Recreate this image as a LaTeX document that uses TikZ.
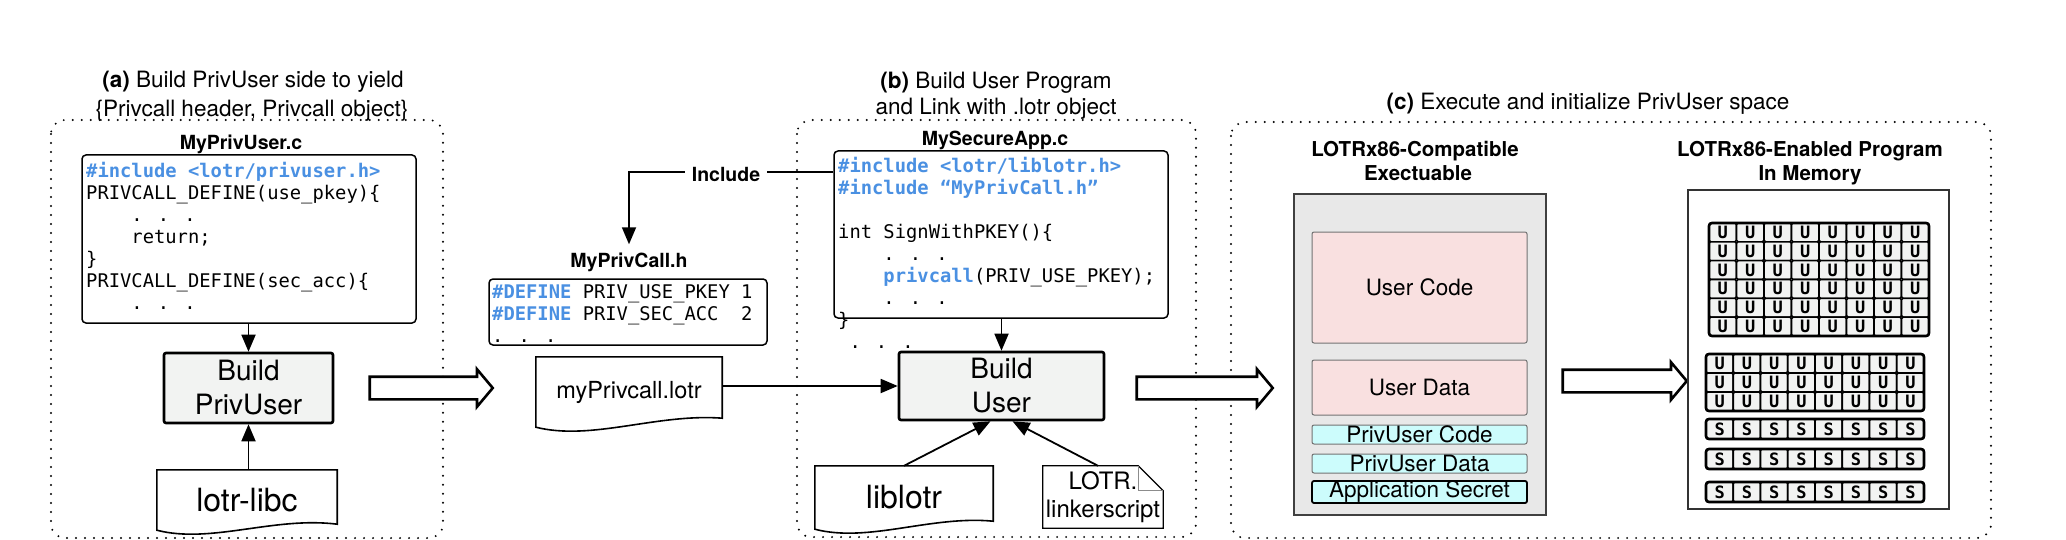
\documentclass[tikz,border=0pt]{standalone}
\usepackage{fontspec}
\setmainfont{TeX Gyre Heros}
\newfontfamily\codefont{DejaVu Sans Mono}
\usetikzlibrary{arrows.meta,shapes.arrows,calc}
\definecolor{codeblue}{HTML}{4A90E2}
\definecolor{buildfill}{HTML}{F2F3F2}
\definecolor{execfill}{HTML}{E8E8E8}
\definecolor{pinkfill}{HTML}{F9E0E0}
\definecolor{cyanfill}{HTML}{CCFCFC}
\definecolor{cellfill}{HTML}{F2F3F2}
\newcommand\kw[1]{{\color{codeblue}\bfseries #1}}
\newcommand\ind{\phantom{0000}}
\newcommand\fsz[2]{\fontsize{#1}{#2}\selectfont}
\newcommand\wavydoc[2]{%
  \draw[docline] (#1.north west) -- (#1.north east) -- ($(#1.south east)+(0,-#2)$)
    .. controls ($(#1.south west)!0.65!(#1.south east)+(0,-14)$) and ($(#1.south west)!0.3!(#1.south east)+(0,14)$) .. (#1.south west) -- cycle;}
\tikzset{
  dotframe/.style={line width=2.2pt, dash pattern=on 0pt off 9pt, line cap=round, rounded corners=14pt},
  ttl/.style={anchor=base, inner sep=0pt, font=\fsz{22.5}{27}},
  fname/.style={anchor=base, inner sep=2pt, font=\fsz{19.5}{23}\bfseries},
  cname/.style={anchor=base, inner sep=2pt, font=\fsz{20.5}{24}\bfseries},
  codebox/.style={draw, line width=1.5pt, rounded corners=4pt, fill=white},
  codetext/.style={anchor=base west, inner sep=0pt},
  buildbox/.style={draw, line width=2.6pt, rounded corners=2pt, fill=buildfill, align=center, font=\fsz{28}{34}},
  docnode/.style={inner sep=0pt, align=center},
  docline/.style={line width=1.6pt},
  conn/.style={line width=1.8pt, -{Triangle[length=17pt,width=14pt]}},
  bigarrow/.style={single arrow, draw, line width=2.6pt, fill=white, inner sep=0pt, text height=10pt, text depth=10pt, single arrow head extend=7.5pt, single arrow tip angle=100},
  execbox/.style={draw=black!75, line width=1.5pt, fill=execfill},
  segpink/.style={draw=black!55, line width=1pt, fill=pinkfill, rounded corners=2pt, inner sep=0pt, font=\fsz{22.5}{27}},
  segcyan/.style={draw=black!55, line width=1pt, fill=cyanfill, rounded corners=2pt, inner sep=0pt, font=\fsz{22.5}{27}},
  ucell/.style={draw, line width=1.6pt, fill=cellfill, rounded corners=1.5pt, inner sep=0pt, font=\codefont\bfseries\fsz{17}{17}},
  gridframe/.style={draw, line width=2.6pt, rounded corners=3pt, inner sep=0pt}
}
\begin{document}
\begin{tikzpicture}[x=1pt,y=-1pt]
\useasboundingbox (0,0) rectangle (2066,540);

% panel frames
\draw[dotframe] (51,120) rectangle (443,538);
\draw[dotframe] (797,120) rectangle (1196,537);
\draw[dotframe] (1231,122) rectangle (1991,538);

% titles
\node[ttl] (ta1) at (253,88) {\textbf{(a)} Build PrivUser side to yield};
\node[ttl] (ta2) at (252,117) {\{Privcall header, Privcall object\}};
\node[ttl] (tb1) at (996,89) {\textbf{(b)} Build User Program};
\node[ttl] (tb2) at (996,115) {and Link with .lotr object};
\node[ttl] (tc1) at (1588,110) {\textbf{(c)} Execute and initialize PrivUser space};

% ---------- (a)
\node[fname] (fa) at (241,150) {MyPrivUser.c};
\node[codebox, minimum width=334pt, minimum height=168pt] (acode) at (249,239) {};
\node[codetext] (atext) at (86,178) {\vtop{\codefont\fsz{18.8}{22}
  \hbox{\kw{\#include <lotr/privuser.h>}}
  \hbox{PRIVCALL\_DEFINE(use\_pkey)\{}
  \hbox{\ind. . .}
  \hbox{\ind return;}
  \hbox{\}}
  \hbox{PRIVCALL\_DEFINE(sec\_acc)\{}
  \hbox{\ind. . .}}};
\node[buildbox, minimum width=169pt, minimum height=70pt] (bpu) at (248.5,388) {Build\\PrivUser};
\node[docnode, minimum width=180pt, minimum height=60pt, font=\fsz{32}{36}] (libc) at (247,500) {lotr-libc};
\wavydoc{libc}{6}
\draw[conn] (bpu.north |- acode.south) -- (bpu.north);
\draw[conn] (libc.north -| bpu.south) -- (bpu.south);

\node[bigarrow, minimum height=123pt] (arrA) at (426.5,388) {};

% ---------- header + lotr object
\node[fname] (fh) at (629,267) {MyPrivCall.h};
\node[codebox, minimum width=278pt, minimum height=66pt] (hcode) at (628,312) {};
\node[codetext] (htext) at (492,298) {\vtop{\codefont\fsz{18.8}{22}
  \hbox{\kw{\#DEFINE} PRIV\_USE\_PKEY 1}
  \hbox{\kw{\#DEFINE} PRIV\_SEC\_ACC\phantom{0} 2}
  \hbox{. . .}}};
\node[docnode, minimum width=186pt, minimum height=70pt, font=\fsz{23.5}{28}] (plotr) at (629,392) {myPrivcall.lotr};
\wavydoc{plotr}{9}

% ---------- (b)
\node[fname] (fb) at (995,146) {MySecureApp.c};
\node[codebox, minimum width=334pt, minimum height=167pt] (bcode) at (1001,234.5) {};
\node[codetext] (btext) at (838,173) {\vtop{\codefont\fsz{18.8}{22}
  \hbox{\kw{\#include <lotr/liblotr.h>}}
  \hbox{\kw{\#include “MyPrivCall.h”}}
  \hbox{}
  \hbox{int SignWithPKEY()\{}
  \hbox{\ind. . .}
  \hbox{\ind\kw{privcall}(PRIV\_USE\_PKEY);}
  \hbox{\ind. . .}
  \hbox{\}}
  \hbox{\phantom{0}. . .}}};
\node[buildbox, minimum width=205pt, minimum height=68pt] (bu) at (1001.5,386) {Build\\User};
\draw[conn] (bu.north |- bcode.south) -- (bu.north);
\draw[conn] (plotr.east |- bu.west) -- (bu.west);

\draw[conn] ($(bcode.north west)+(0,22)$) -| ($(fh.north)+(0,-6)$);
\node[fill=white, inner xsep=7pt, inner ysep=2pt, font=\fsz{19.5}{23}\bfseries] (inc) at (726,174) {Include};

\node[docnode, minimum width=178pt, minimum height=63pt, font=\fsz{32}{36}] (llib) at (904,497.5) {liblotr};
\wavydoc{llib}{8}
\node[docnode, minimum width=120pt, minimum height=62pt, font=\fsz{24}{28}] (ls) at (1103,497) {LOTR.\\linkerscript};
\draw[line width=1.2pt] (ls.north west) -- ($(ls.north east)+(-25,0)$) -- ($(ls.north east)+(0,25)$) -- (ls.south east) -- (ls.south west) -- cycle;
\draw[line width=1pt, black!45] ($(ls.north east)+(-25,0)$) |- ($(ls.north east)+(0,25)$);
\draw[conn] (llib.north) -- ($(bu.south)+(-11,0)$);
\draw[conn] ($(ls.north)+(-5,0)$) -- ($(bu.south)+(11,0)$);

\node[bigarrow, minimum height=136pt] (arrB) at (1200,388) {};

% ---------- (c)
\node[cname] (ce1) at (1415,157) {LOTRx86-Compatible};
\node[cname] (ce2) at (1418,181) {Exectuable};
\node[cname] (cm1) at (1810,157) {LOTRx86-Enabled Program};
\node[cname] (cm2) at (1810,181) {In Memory};

\node[execbox, minimum width=252pt, minimum height=321pt] (exe) at (1420,354.5) {};
\node[segpink, minimum width=215pt, minimum height=111pt] (ucode) at (1419.5,287.5) {User Code};
\node[segpink, minimum width=215pt, minimum height=55pt] (udata) at (1419.5,387.5) {User Data};
\node[segcyan, minimum width=215pt, minimum height=19pt] (pcode) at (1419.5,434.5) {PrivUser Code};
\node[segcyan, minimum width=215pt, minimum height=19pt] (pdata) at (1419.5,463.5) {PrivUser Data};
\node[segcyan, draw=black, line width=1.8pt, minimum width=215pt, minimum height=22pt] (asec) at (1419.5,492) {Application Secret};

\node[bigarrow, minimum height=124pt] (arrC) at (1620,381) {};

\node[draw=black!80, line width=1.5pt, fill=white, minimum width=261pt, minimum height=319pt] (mem) at (1818.5,349.5) {};

\foreach \r in {0,...,5}{\foreach \c in {0,...,7}{
  \node[ucell, minimum width=27.5pt, minimum height=18.83pt] (ua-\r-\c) at ({1709+27.5*(\c+0.5)},{223+18.83*(\r+0.5)}) {U};}}
\node[gridframe, minimum width=220pt, minimum height=113pt] (ga) at (1819,279.5) {};

\foreach \r in {0,1,2}{\foreach \c in {0,...,7}{
  \node[ucell, minimum width=27.25pt, minimum height=19pt] (ub-\r-\c) at ({1706+27.25*(\c+0.5)},{354+19*(\r+0.5)}) {U};}}
\node[gridframe, minimum width=218pt, minimum height=57pt] (gb) at (1815,382.5) {};

\foreach \t [count=\k] in {419,449,482}{
  \foreach \c in {0,...,7}{
    \node[ucell, minimum width=27.25pt, minimum height=20pt] (s-\k-\c) at ({1706+27.25*(\c+0.5)},{\t+10}) {S};}
  \node[gridframe, minimum width=218pt, minimum height=20pt] (gs-\k) at ({1815},{\t+10}) {};
}
\end{tikzpicture}
\end{document}
